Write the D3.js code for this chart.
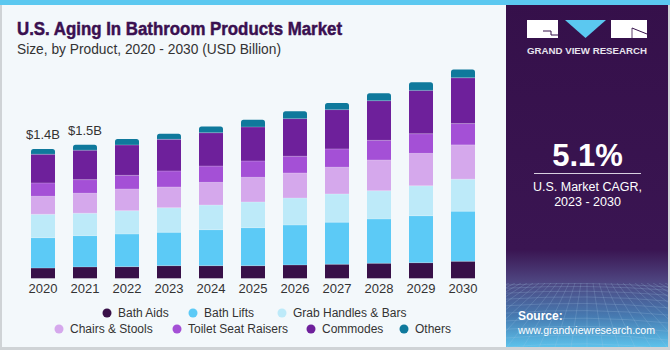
<!DOCTYPE html>
<html>
<head>
<meta charset="utf-8">
<script src="https://cdn.jsdelivr.net/npm/d3@7/dist/d3.min.js"></script>
<style>
html,body{margin:0;padding:0;background:#fff;}
svg{display:block;font-family:"Liberation Sans",Arial,sans-serif;}
</style>
</head>
<body>
<svg id="chart" width="670" height="350"></svg>
<script>
const years = ["2020","2021","2022","2023","2024","2025","2026","2027","2028","2029","2030"];
const seriesNames = ["Bath Aids","Bath Lifts","Grab Handles & Bars","Chairs & Stools","Toilet Seat Raisers","Commodes","Others"];
const seriesColors = ["#381048","#5ccaf6","#bdeaf9","#d5a8ec","#a450d6","#6e209b","#0f799c"];
const bathAids   = [0.114,0.126,0.129,0.140,0.140,0.140,0.148,0.156,0.167,0.173,0.189];
const bathLifts  = [0.337,0.348,0.363,0.371,0.400,0.422,0.444,0.467,0.492,0.522,0.556];
const grabHandles= [0.260,0.249,0.259,0.273,0.274,0.286,0.300,0.314,0.314,0.333,0.356];
const chairs     = [0.200,0.222,0.241,0.230,0.252,0.274,0.278,0.297,0.341,0.360,0.381];
const toiletSeat = [0.148,0.151,0.152,0.178,0.181,0.181,0.186,0.203,0.219,0.218,0.237];
const commodes   = [0.319,0.327,0.337,0.352,0.370,0.378,0.418,0.437,0.440,0.482,0.508];
const others     = [0.059,0.062,0.067,0.062,0.071,0.081,0.082,0.074,0.082,0.089,0.092];
const valueLabels = {"2020":"$1.4B","2021":"$1.5B"};
const seriesValues = [bathAids,bathLifts,grabHandles,chairs,toiletSeat,commodes,others];

const svg = d3.select("#chart");
const defs = svg.append("defs");

// Backgrounds
svg.append("rect").attr("x",0).attr("y",0).attr("width",670).attr("height",350).attr("fill","#f3f8fb");
svg.append("rect").attr("x",0).attr("y",0).attr("width",2).attr("height",350).attr("fill","#cfd3d6");
svg.append("rect").attr("x",0).attr("y",347).attr("width",670).attr("height",3).attr("fill","#cfd3d6");

// Right panel
const pg = defs.append("linearGradient").attr("id","pg").attr("x1",0).attr("y1",0).attr("x2",0).attr("y2",1);
pg.append("stop").attr("offset","0").attr("stop-color","#35104a");
pg.append("stop").attr("offset","0.72").attr("stop-color","#3a1552");
pg.append("stop").attr("offset","0.81").attr("stop-color","#4e4580");
pg.append("stop").attr("offset","0.91").attr("stop-color","#4679b0");
pg.append("stop").attr("offset","1").attr("stop-color","#5cc2eb");
svg.append("rect").attr("x",506).attr("y",0).attr("width",164).attr("height",347).attr("fill","url(#pg)");
svg.append("rect").attr("x",668).attr("y",0).attr("width",2).attr("height",350).attr("fill","#cfd3d6");

// grid pattern at bottom of panel
const clip = defs.append("clipPath").attr("id","pc");
clip.append("rect").attr("x",506).attr("y",283).attr("width",162).attr("height",64);
const gridG = svg.append("g").attr("clip-path","url(#pc)").attr("stroke","#a8cbe8").attr("stroke-opacity",0.3).attr("stroke-width",0.7).attr("fill","none");
for (let i=0;i<12;i++){
  const yy = 285 + Math.pow(i,1.35)*3.2;
  gridG.append("path").attr("d",`M506,${yy} Q587,${yy-4-i*0.4} 668,${yy+2}`);
}
for (let i=-14;i<=14;i++){
  const xTop = 587 + i*6, xBot = 587 + i*16;
  gridG.append("path").attr("d",`M${xTop},283 L${xBot},347`);
}

// Top strip
svg.append("rect").attr("x",0).attr("y",0).attr("width",670).attr("height",5).attr("fill","#5bc8f0");

// Title
svg.append("text").attr("x",17).attr("y",35).attr("fill","#3a1050").attr("stroke","#3a1050").attr("stroke-width",0.5)
  .attr("font-size",19).attr("font-weight","bold")
  .attr("textLength",325).attr("lengthAdjust","spacingAndGlyphs")
  .text("U.S. Aging In Bathroom Products Market");
svg.append("text").attr("x",17).attr("y",54).attr("fill","#333")
  .attr("font-size",14.5).attr("textLength",264).attr("lengthAdjust","spacingAndGlyphs")
  .text("Size, by Product, 2020 - 2030 (USD Billion)");

// Scales
const x = d3.scaleBand().domain(years).range([22,484]).paddingInner(0.4286).paddingOuter(0.2143);
const y = d3.scaleLinear().domain([0,2.3]).range([278.3, 278.3-2.3*90]);

const rows = years.map((yr,i)=>{const o={year:yr}; seriesNames.forEach((s,j)=>o[s]=seriesValues[j][i]); return o;});
const stack = d3.stack().keys(seriesNames)(rows);

const barsG = svg.append("g");
stack.forEach((layer,li)=>{
  const g = barsG.append("g").attr("fill",seriesColors[li]);
  layer.forEach(d=>{
    const x0 = x(d.data.year), w = x.bandwidth();
    const yTop = y(d[1]), yBot = y(d[0]);
    if (li === stack.length-1){
      const r = 2.5;
      g.append("path").attr("d",
        `M${x0},${yBot} L${x0},${yTop+r} Q${x0},${yTop} ${x0+r},${yTop} L${x0+w-r},${yTop} Q${x0+w},${yTop} ${x0+w},${yTop+r} L${x0+w},${yBot} Z`);
    } else {
      g.append("rect").attr("x",x0).attr("y",yTop).attr("width",w).attr("height",yBot-yTop);
    }
  });
});
const sepG = barsG.append("g").attr("stroke","#ffffff").attr("stroke-opacity",0.3).attr("stroke-width",0.8);
stack.slice(0,-1).forEach(layer=>{
  layer.forEach(d=>{
    sepG.append("line").attr("x1",x(d.data.year)).attr("x2",x(d.data.year)+x.bandwidth())
      .attr("y1",y(d[1])).attr("y2",y(d[1]));
  });
});

// value labels
const last = stack[stack.length-1];
Object.keys(valueLabels).forEach(yr=>{
  const d = last.find(e=>e.data.year===yr);
  svg.append("text").attr("x",x(yr)+x.bandwidth()/2).attr("y",y(d[1])-10)
    .attr("text-anchor","middle").attr("font-size",13).attr("fill","#333").text(valueLabels[yr]);
});

// x axis
const xAxis = svg.append("g").attr("transform","translate(0,278.3)")
  .call(d3.axisBottom(x).tickSize(0).tickPadding(5));
xAxis.select(".domain").remove();
xAxis.selectAll("text").attr("font-size",13).attr("fill","#333").attr("font-family","'Liberation Sans',Arial,sans-serif").attr("dy","0.71em");

// legend
const legendPos = [
  {cx:107,ty:313},{cx:193,ty:313},{cx:282,ty:313},
  {cx:59,ty:329},{cx:177,ty:329},{cx:311,ty:329},{cx:404,ty:329}
];
const lg = svg.append("g");
seriesNames.forEach((s,i)=>{
  const p = legendPos[i];
  lg.append("circle").attr("cx",p.cx).attr("cy",p.ty).attr("r",4.5).attr("fill",seriesColors[i]);
  lg.append("text").attr("x",p.cx+11).attr("y",p.ty).attr("dy","0.35em").attr("font-size",12).attr("fill","#333").text(s);
});

// logo
const logo = svg.append("g");
logo.append("rect").attr("x",527).attr("y",20).attr("width",31).attr("height",18).attr("fill","#fff");
logo.append("path").attr("d","M543,31 L551,31 L551,35 L558,35").attr("stroke","#35104a").attr("stroke-width",1).attr("fill","none");
logo.append("path").attr("d","M565,20 L606,20 L585.5,38 Z").attr("fill","#5bc8f0");
logo.append("rect").attr("x",611).attr("y",20).attr("width",36).attr("height",18).attr("fill","#fff");
logo.append("path").attr("d","M632,28 L647,34").attr("stroke","#35104a").attr("stroke-width",1);
logo.append("path").attr("d","M632,28 L632,38").attr("stroke","#35104a").attr("stroke-width",0.8);
svg.append("text").attr("x",587).attr("y",54).attr("text-anchor","middle").attr("fill","#e8e4ee")
  .attr("font-size",8.8).attr("font-weight","bold").attr("textLength",120).attr("lengthAdjust","spacingAndGlyphs")
  .text("GRAND VIEW RESEARCH");

// CAGR
svg.append("text").attr("x",587.5).attr("y",166).attr("text-anchor","middle").attr("fill","#fff")
  .attr("font-size",31).attr("font-weight","bold").text("5.1%");
svg.append("line").attr("x1",534).attr("x2",641).attr("y1",173.5).attr("y2",173.5).attr("stroke","#d8d0e0").attr("stroke-width",1.2);
svg.append("text").attr("x",587.5).attr("y",191).attr("text-anchor","middle").attr("fill","#fff").attr("font-size",12.5).text("U.S. Market CAGR,");
svg.append("text").attr("x",587.5).attr("y",206).attr("text-anchor","middle").attr("fill","#fff").attr("font-size",12.5).text("2023 - 2030");

// source
svg.append("text").attr("x",518).attr("y",320).attr("fill","#fff").attr("font-size",12).attr("font-weight","bold").text("Source:");
svg.append("text").attr("x",518).attr("y",334).attr("fill","#fff").attr("font-size",10.8)
  .attr("textLength",137).attr("lengthAdjust","spacingAndGlyphs").text("www.grandviewresearch.com");
</script>
</body>
</html>
